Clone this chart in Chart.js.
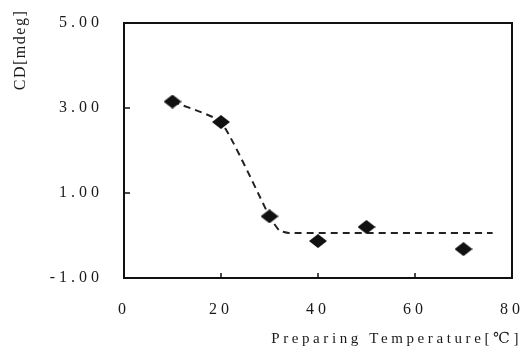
<!DOCTYPE html>
<html>
<head>
<meta charset="utf-8">
<script src="https://cdn.jsdelivr.net/npm/chart.js@4"></script>
<style>
  html, body { margin: 0; padding: 0; background: #fff; }
  #wrap { width: 522px; height: 348px; }
</style>
</head>
<body>
<div id="wrap"><canvas id="my-chart"></canvas></div>
<script>
// measured points
const temps = [10, 20, 30, 40, 50, 70];
const cdValues = [3.15, 2.67, 0.45, -0.13, 0.2, -0.32];

// dashed guide line
const fitTemps = [10, 20, 30, 32, 34, 76];
const fitValues = [3.15, 2.67, 0.45, 0.12, 0.06, 0.06];

const xTicks = [0, 20, 40, 60, 80];
const yTicks = [-1, 1, 3, 5];

const ink = '#1a1a1a';
const serif = "'Liberation Serif', 'DejaVu Serif', serif";

// flattened diamond marker
const diamond = document.createElement('canvas');
diamond.width = 18;
diamond.height = 14;
const dctx = diamond.getContext('2d');
dctx.fillStyle = '#111';
dctx.beginPath();
dctx.moveTo(9, 0);
dctx.lineTo(18, 7);
dctx.lineTo(9, 14);
dctx.lineTo(0, 7);
dctx.closePath();
dctx.fill();

const framePlugin = {
    id: 'frame',
    beforeLayout(chart) {
        chart.ctx.letterSpacing = '4px';
    },
    beforeDraw(chart) {
        chart.ctx.letterSpacing = '4px';
        // the axis title is spaced a little tighter and runs past the frame
        const xs = chart.scales.x;
        if (!xs._titlePatched) {
            const orig = xs.drawTitle;
            xs.drawTitle = function () {
                const c = chart.ctx;
                c.save();
                c.letterSpacing = '3.6px';
                c.translate(10, 0);
                orig.apply(this, arguments);
                c.restore();
                c.letterSpacing = '4px';
            };
            xs._titlePatched = true;
        }
    },
    afterDraw(chart) {
        const c = chart.ctx;
        const a = chart.chartArea;
        const xs = chart.scales.x;
        const ys = chart.scales.y;
        c.save();
        c.strokeStyle = '#111';
        c.lineWidth = 2;
        c.strokeRect(a.left, a.top, a.right - a.left, a.bottom - a.top);
        // inward tick marks
        c.lineWidth = 1.5;
        c.beginPath();
        xTicks.forEach(function (v) {
            const px = xs.getPixelForValue(v);
            c.moveTo(px, a.bottom);
            c.lineTo(px, a.bottom - 5);
        });
        yTicks.forEach(function (v) {
            const py = ys.getPixelForValue(v);
            c.moveTo(a.left, py);
            c.lineTo(a.left + 6, py);
        });
        c.stroke();
        // y axis title
        c.fillStyle = ink;
        c.font = '16px ' + serif;
        c.letterSpacing = '1.5px';
        c.translate(21, 50);
        c.rotate(-Math.PI / 2);
        c.textAlign = 'center';
        c.textBaseline = 'middle';
        c.fillText('CD[mdeg]', 0, 0);
        c.restore();
    }
};

const ctx = document.getElementById('my-chart');

const chart = new Chart(ctx, {
    type: 'scatter',
    data: {
        datasets: [
            {
                label: 'CD',
                data: temps.map((t, i) => ({ x: t, y: cdValues[i] })),
                pointStyle: diamond,
                pointRadius: 8,
                showLine: false
            },
            {
                label: 'fit',
                data: fitTemps.map((t, i) => ({ x: t, y: fitValues[i] })),
                showLine: true,
                pointRadius: 0,
                borderColor: '#222',
                borderWidth: 2,
                borderDash: [7, 5],
                tension: 0.15,
                fill: false
            }
        ]
    },
    options: {
        responsive: true,
        maintainAspectRatio: false,
        animation: false,
        layout: { padding: { left: 0, top: 23, right: 10, bottom: 0 } },
        plugins: {
            legend: { display: false },
            tooltip: { enabled: false }
        },
        scales: {
            x: {
                type: 'linear',
                min: 0,
                max: 80,
                afterBuildTicks: s => { s.ticks = xTicks.map(v => ({ value: v })); },
                afterFit: s => { s.height = 70; s.paddingLeft = 0; s.paddingRight = 0; },
                grid: { display: false },
                border: { display: false },
                ticks: {
                    autoSkip: false,
                    maxRotation: 0,
                    padding: 14,
                    color: ink,
                    font: { family: serif, size: 16 }
                },
                title: {
                    display: true,
                    text: 'Preparing Temperature[℃]',
                    align: 'end',
                    color: ink,
                    font: { family: serif, size: 15 },
                    padding: { top: 0, bottom: 0 }
                }
            },
            y: {
                min: -1,
                max: 5,
                afterBuildTicks: s => { s.ticks = yTicks.map(v => ({ value: v })); },
                afterFit: s => { s.width = 124; s.paddingTop = 0; s.paddingBottom = 0; },
                grid: { display: false },
                border: { display: false },
                ticks: {
                    autoSkip: false,
                    padding: 13,
                    color: ink,
                    font: { family: serif, size: 16 },
                    callback: v => v.toFixed(2)
                }
            }
        }
    },
    plugins: [framePlugin]
});
</script>
</body>
</html>
